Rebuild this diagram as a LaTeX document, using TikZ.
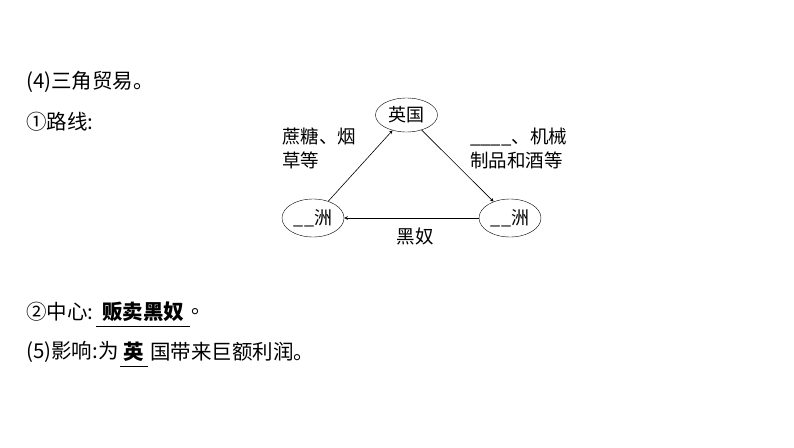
\documentclass[tikz,border=0pt]{standalone}
\usepackage{fontspec}
\setmainfont{Noto Sans CJK SC}
\usetikzlibrary{positioning,shapes.geometric}

\begin{document}
\begin{tikzpicture}[x=1pt,y=-1pt]
	\tikzset{line/.style={anchor=west,font=\fontsize{20.5}{24}\selectfont,inner sep=0pt}}
	\tikzset{place/.style={draw,ellipse,minimum width=62pt,minimum height=36pt,inner sep=0pt,font=\fontsize{18}{20}\selectfont}}
	\tikzset{lbl/.style={font=\fontsize{18.5}{24}\selectfont,align=left,inner sep=0pt}}
	\tikzset{trade/.style={-stealth,semithick}}
	\useasboundingbox (0,0) rectangle (794,447);

	    \node[line] (t4) at (26,82) {(4)三角贸易。};
	    \node[line] (t1) at (26,122) {①路线:};

	    % triangle
	    \node[place,minimum height=34pt] (uk) at (406.5,115) {英国};
	    \node[place,minimum height=38pt] (af) at (313,218) {\_\_洲};
	    \node[place,minimum height=38pt] (am) at (510,218) {\_\_洲};
	    \draw[trade] (af) -- (uk);
	    \draw[trade] (uk) -- (am);
	    \draw[trade] (am) -- (af);
	    \node[lbl,anchor=north west] (g1) at (282,128) {蔗糖、烟\\草等};
	    \node[lbl,anchor=north west] (g2) at (470,128) {\_\_\_\_、机械\\制品和酒等};
	    \node[lbl] (g3) at (415,236) {黑奴};

	    % answers
	    \node[line] (t2) at (26,312) {②中心:};
	    \node[line,font=\fontsize{20.5}{24}\selectfont\bfseries] (a1) at (102,312) {贩卖黑奴};
	    \draw ([xshift=-6pt,yshift=-4pt]a1.south west) -- ([xshift=6pt,yshift=-4pt]a1.south east);
	    \node[line,right=7pt of a1] (d1) {。};
	    \node[line] (t5) at (26,352) {(5)影响:为};
	    \node[line,font=\fontsize{20.5}{24}\selectfont\bfseries] (a2) at (123,352) {英};
	    \draw ([xshift=-3pt,yshift=-4pt]a2.south west) -- ([xshift=4pt,yshift=-4pt]a2.south east);
	    \node[line,right=6pt of a2] (r2) {国带来巨额利润。};
\end{tikzpicture}
\end{document}
